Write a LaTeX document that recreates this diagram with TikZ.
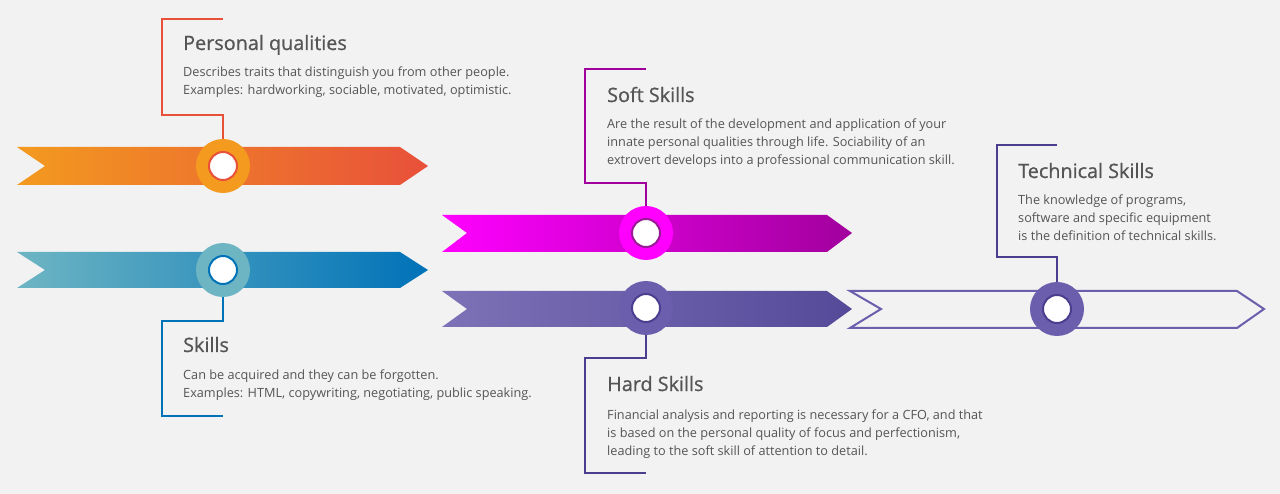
\documentclass[tikz,border=0pt]{standalone}
\usepackage{fontspec}
\setmainfont{Open Sans}
\newfontfamily\titlefont[FakeBold=0.8]{Open Sans}
\definecolor{bg}{HTML}{F2F2F2}
\definecolor{orA}{HTML}{F39A1F}
\definecolor{orB}{HTML}{E8503A}
\definecolor{blA}{HTML}{6DB5C3}
\definecolor{blB}{HTML}{0072B8}
\definecolor{mgA}{HTML}{FF00FF}
\definecolor{mgB}{HTML}{A1009D}
\definecolor{mgR}{HTML}{9A1A96}
\definecolor{puA}{HTML}{7D72B7}
\definecolor{puB}{HTML}{554A99}
\definecolor{puC}{HTML}{6A5EAD}
\definecolor{puL}{HTML}{8F86C4}
\definecolor{puR}{HTML}{4A3E8E}
\definecolor{txt}{HTML}{555555}
\begin{document}
\begin{tikzpicture}[x=1pt,y=-1pt,
  outerc/.style={circle,minimum size=54pt,inner sep=0pt},
  innerc/.style={circle,fill=white,minimum size=28pt,inner sep=0pt,line width=2pt},
  brk/.style={line width=2.4pt},
  ttl/.style={anchor=base west,inner sep=0pt,text=txt,font=\titlefont\fontsize{19.8}{24}\selectfont},
  body/.style={anchor=base west,inner sep=0pt,text=txt,align=left,font=\fontsize{12.7}{18}\selectfont}]
\fill[bg] (0,0) rectangle (1280,494);
\useasboundingbox (0,0) rectangle (1280,494);

% ribbons
\shade[left color=orA,right color=orB] (17,147) -- (400,147) -- (428,166) -- (400,185) -- (17,185) -- (45,166) -- cycle;
\shade[left color=blA,right color=blB] (17,252) -- (400,252) -- (428,270) -- (400,288) -- (17,288) -- (45,270) -- cycle;
\shade[left color=mgA,right color=mgB] (442,215) -- (827,215) -- (852,233) -- (827,252) -- (442,252) -- (467,233) -- cycle;
\shade[left color=puA,right color=puB] (442,291) -- (827,291) -- (852,309) -- (827,327) -- (442,327) -- (467,309) -- cycle;
\draw[puL,line width=2pt,line join=miter] (850,291) -- (860,291) (850,328) -- (860,328);
\draw[puC,line width=2pt,line join=miter] (850,291) -- (1237,291) -- (1264,309) -- (1237,328) -- (850,328) -- (881,309) -- cycle;

% circle markers
\node[outerc,fill=orA] (c1) at (223,166) {};
\node[outerc,fill=blA] (c2) at (223,270) {};
\node[outerc,fill=mgA] (c3) at (646,233) {};
\node[outerc,fill=puC] (c4) at (646,308) {};
\node[outerc,fill=puC] (c5) at (1057,309) {};

% brackets
\coordinate (p1) at (162,19);
\coordinate (p2) at (162,321);
\coordinate (p3) at (585,69);
\coordinate (p4) at (585,358);
\coordinate (p5) at (997,145);
\draw[brk,orB] (c1.north) -- (223,115) -- (162,115) -- (p1) -- (223,19);
\draw[brk,blB] (c2.south) -- (223,321) -- (p2) -- (162,416) -- (223,416);
\draw[brk,mgB] (c3.north) -- (646,183) -- (585,183) -- (p3) -- (646,69);
\draw[brk,puR] (c4.south) -- (646,358) -- (p4) -- (585,473) -- (646,473);
\draw[brk,puR] (c5.north) -- (1057,257) -- (997,257) -- (p5) -- (1057,145);

\node[innerc,draw=orB] (i1) at (c1) {};
\node[innerc,draw=blB] (i2) at (c2) {};
\node[innerc,draw=mgR] (i3) at (c3) {};
\node[innerc,draw=puR] (i4) at (c4) {};
\node[innerc,draw=puR] (i5) at (c5) {};

% texts (body nodes anchored at the baseline of their last line)
\node[ttl] (t1) at (183,50) {Personal qualities};
\node[body] (b1) at (183,95) {Describes traits that distinguish you from other people.\\Examples: hardworking, sociable, motivated, optimistic.};
\node[ttl] (t2) at (183,352) {Skills};
\node[body] (b2) at (183,397) {Can be acquired and they can be forgotten.\\Examples: HTML, copywriting, negotiating, public speaking.};
\node[ttl] (t3) at (607,102) {Soft Skills};
\node[body] (b3) at (607,165) {Are the result of the development and application of your\\innate personal qualities through life. Sociability of an\\extrovert develops into a professional communication skill.};
\node[ttl] (t4) at (607,391) {Hard Skills};
\node[body] (b4) at (607,455) {Financial analysis and reporting is necessary for a CFO, and that\\is based on the personal quality of focus and perfectionism,\\leading to the soft skill of attention to detail.};
\node[ttl] (t5) at (1018,178) {Technical Skills};
\node[body] (b5) at (1018,241) {The knowledge of programs,\\software and specific equipment\\is the definition of technical skills.};
\end{tikzpicture}
\end{document}
